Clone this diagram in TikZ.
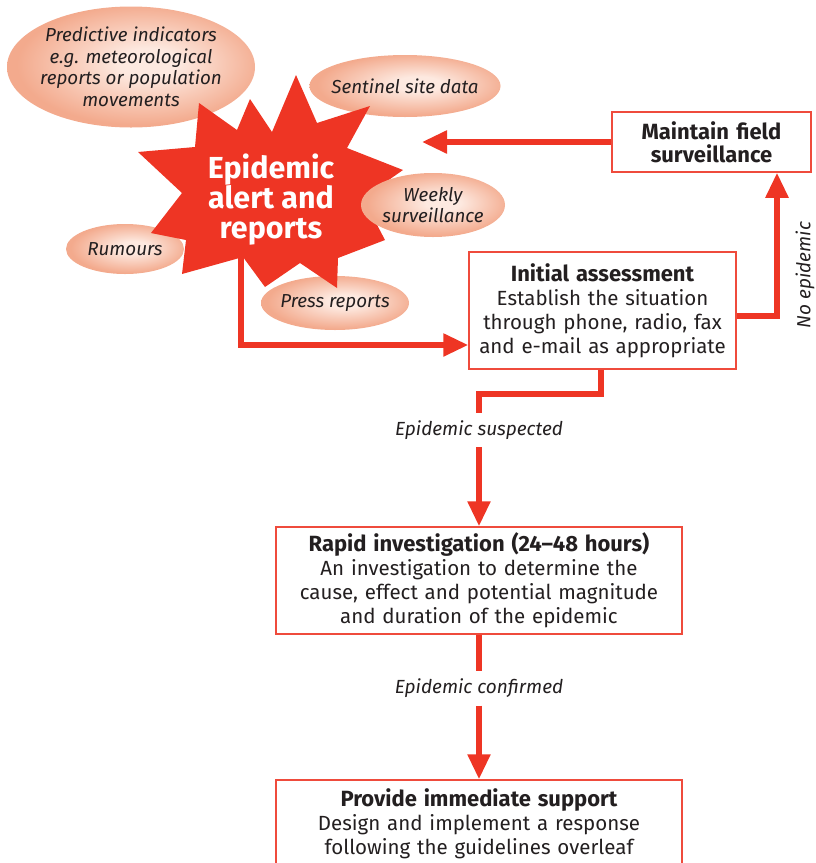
\documentclass[tikz,border=0pt]{standalone}
\usepackage{fontspec}
\setmainfont{Fira Sans}
\usetikzlibrary{arrows.meta,shapes.geometric}
\definecolor{alertred}{HTML}{EE3524}
\definecolor{boxred}{HTML}{EF4B3C}
\definecolor{inktext}{HTML}{231F20}
\definecolor{bubbleout}{HTML}{F3AA8D}
\definecolor{bubblein}{HTML}{FDE9E0}
\pgfdeclareradialshading{bubbleshade}{\pgfpoint{4bp}{2bp}}{color(0bp)=(bubblein); color(6bp)=(bubblein); color(25bp)=(bubbleout); color(50bp)=(bubbleout)}
\begin{document}
\begin{tikzpicture}[x=1pt, y=-1pt,
        every node/.style={text=inktext, font=\fontsize{20.5}{24}\selectfont},
        stagebox/.style={draw=boxred, line width=1.5pt, fill=white, align=center, inner sep=0pt},
        bubble/.style={ellipse, shading=bubbleshade, align=center, inner sep=-6pt, font=\fontsize{18.8}{21.5}\selectfont\itshape},
        flow/.style={draw=alertred, line width=5.5pt},
        flowarrow/.style={flow, -{Triangle[width=22pt,length=25pt]}},
        flowlabel/.style={font=\fontsize{19}{21}\selectfont\itshape, inner sep=0pt, minimum height=34pt}]
        \useasboundingbox (0,0) rectangle (816,863);

        % sources feeding the alert
        \node (predictive) [bubble, minimum width=248pt, minimum height=121pt] at (131,67) {Predictive indicators\\e.g. meteorological\\reports or population\\movements};
        \node (sentinel) [bubble, minimum width=178pt, minimum height=62pt] at (405,86) {Sentinel site data};
        \node (rumours) [bubble, minimum width=118pt, minimum height=50pt] at (125,249) {Rumours};
        \node (press) [bubble, minimum width=148pt, minimum height=54pt] at (335,303) {Press reports};

        \fill[alertred] (296,75) -- (317,123) -- (370,106) -- (347,148) -- (403,170) -- (363,198) -- (385,240) -- (338,258) -- (337,288) -- (300,263) -- (265,287) -- (243,257) -- (182,274) -- (186,240) -- (151,233) -- (182,193) -- (138,152) -- (195,147) -- (199,103) -- (237,130) -- (250,99) -- (272,132) -- cycle;
        \node (weekly) [bubble, minimum width=144pt, minimum height=64pt] at (433,205) {Weekly\\surveillance};
        \node (alert) [align=center, text=white, font=\fontsize{30.4}{30}\selectfont\bfseries] at (271,200) {Epidemic\\alert and\\reports};
        \coordinate (alertfoot) at (241,255);
        \coordinate (alertgap) at (422,142);

        % stages
        \node (maintain) [stagebox, text width=199pt, minimum height=60pt, font=\fontsize{22}{23}\selectfont\bfseries] at (711.5,142) {Maintain field\\surveillance};
        \node (initial) [stagebox, text width=267pt, minimum height=117pt] at (602.5,310.5) {{\fontsize{22}{24}\selectfont\bfseries Initial assessment}\\Establish the situation\\through phone, radio, fax\\and e-mail as appropriate};
        \node (rapid) [stagebox, text width=406pt, minimum height=107pt] at (479,580.5) {{\fontsize{22}{24}\selectfont\bfseries Rapid investigation (24--48 hours)}\\An investigation to determine the\\cause, effect and potential magnitude\\and duration of the epidemic};
        \node (provide) [stagebox, text width=406pt, minimum height=88pt] at (479,824) {{\fontsize{22}{24}\selectfont\bfseries Provide immediate support}\\Design and implement a response\\following the guidelines overleaf};

        \node (suspected) [flowlabel] at (479,430) {Epidemic suspected};
        \node (confirmed) [flowlabel] at (479,688.5) {Epidemic confirmed};
        \node (noepi) [flowlabel, rotate=90] at (805,275) {No epidemic};

        \draw [flowarrow] (maintain.west) -- (alertgap);
        \draw [flowarrow] ([yshift=-5.5pt]initial.east) -| ([xshift=65.5pt]maintain.south);
        \draw [flowarrow] (alertfoot) |- ([yshift=-34.5pt]initial.west);
        \draw [flow] ([xshift=-1.5pt]initial.south) -- ++(0,24) -| (suspected.north);
        \draw [flowarrow] (suspected.south) -- (rapid.north);
        \draw [flow] (rapid.south) -- (confirmed.north);
        \draw [flowarrow] (confirmed.south) -- (provide.north);

\end{tikzpicture}
\end{document}
